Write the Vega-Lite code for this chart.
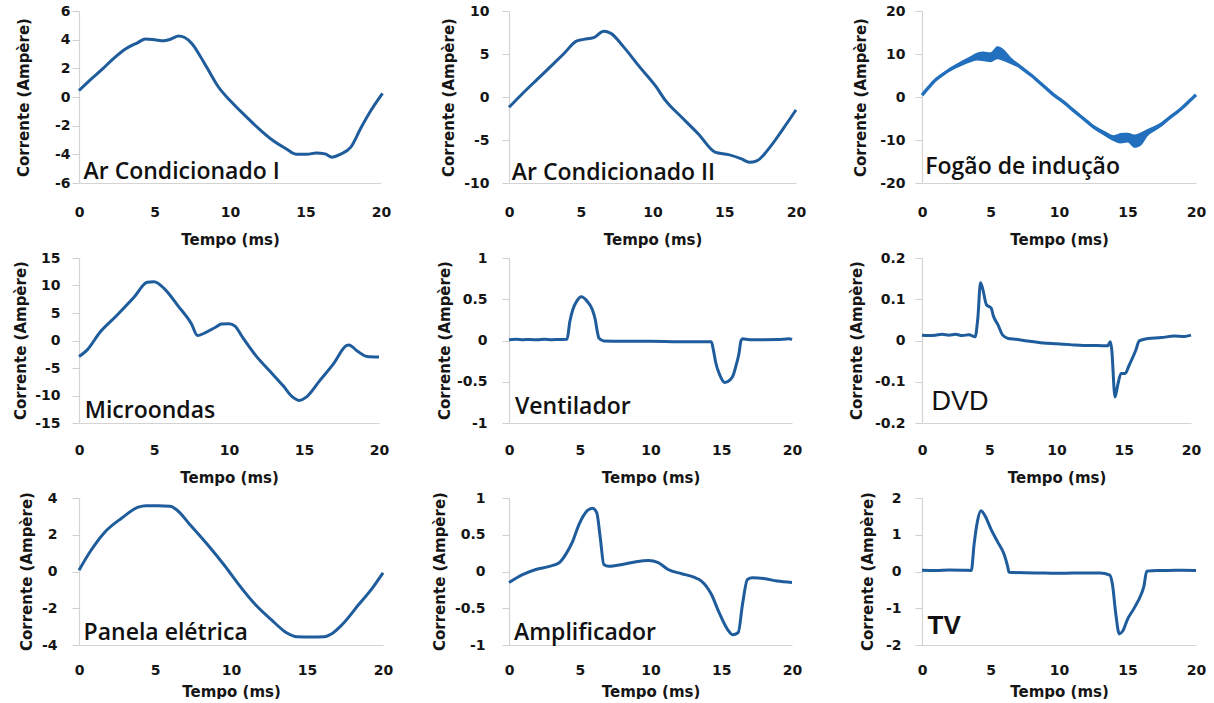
{
  "$schema": "https://vega.github.io/schema/vega-lite/v6.json",
  "background": "white",
  "padding": {"left": 12, "top": 4, "right": 5, "bottom": 0},
  "columns": 3,
  "bounds": "flush",
  "align": "none",
  "spacing": {"row": 75, "column": 126},
  "config": {
    "view": {"stroke": null},
    "axis": {
      "grid": false, "tickCount": 20,
      "labelFont": "DejaVu Sans", "labelFontWeight": "bold", "labelFontSize": 14, "labelColor": "#151515",
      "titleFont": "DejaVu Sans", "titleFontWeight": "bold", "titleFontSize": 15, "titleColor": "#151515",
      "domainColor": "#d4d4d4", "domainWidth": 1.2, "tickColor": "#cfcfcf", "labelOverlap": false, "labelBound": false, "labelFlush": false
    },
    "text": {"font": "Open Sans", "fontSize": 23, "fontWeight": 600, "color": "#111111", "align": "left", "baseline": "alphabetic"},
    "line": {"color": "#1f5c9c", "strokeWidth": 3, "interpolate": "monotone"}
  },
  "datasets": {
    "ac1": [
      {"t":0,"v":0.45},{"t":0.8,"v":1.25},{"t":1.6,"v":2.0},{"t":2.3,"v":2.7},{"t":3.0,"v":3.3},{"t":3.9,"v":3.8},{"t":4.4,"v":4.05},{"t":5.0,"v":4.0},{"t":5.6,"v":3.92},{"t":6.1,"v":4.05},{"t":6.6,"v":4.25},{"t":7.0,"v":4.15},{"t":7.5,"v":3.7},{"t":8.0,"v":2.9},{"t":8.5,"v":2.0},{"t":9.2,"v":0.75},{"t":10.1,"v":-0.35},{"t":11.0,"v":-1.3},{"t":11.9,"v":-2.2},{"t":12.8,"v":-3.0},{"t":13.7,"v":-3.6},{"t":14.4,"v":-4.0},{"t":15.1,"v":-4.0},{"t":15.7,"v":-3.9},{"t":16.3,"v":-3.97},{"t":16.75,"v":-4.2},{"t":17.3,"v":-4.0},{"t":18.0,"v":-3.5},{"t":18.65,"v":-2.2},{"t":19.3,"v":-1.0},{"t":20.1,"v":0.25}
    ],
    "ac2": [
      {"t":0,"v":-1.2},{"t":1.0,"v":0.5},{"t":2.0,"v":2.1},{"t":3.0,"v":3.7},{"t":3.8,"v":5.0},{"t":4.7,"v":6.5},{"t":5.2,"v":6.7},{"t":5.9,"v":6.9},{"t":6.6,"v":7.65},{"t":7.1,"v":7.4},{"t":8.0,"v":5.8},{"t":9.1,"v":3.5},{"t":10.25,"v":1.2},{"t":10.9,"v":-0.4},{"t":12.0,"v":-2.3},{"t":13.2,"v":-4.3},{"t":14.35,"v":-6.4},{"t":15.3,"v":-6.7},{"t":16.2,"v":-7.2},{"t":16.75,"v":-7.6},{"t":17.3,"v":-7.4},{"t":18.2,"v":-5.8},{"t":19.1,"v":-3.7},{"t":20.0,"v":-1.5}
    ],
    "fogao": [
      {"t":0,"v":0.4,"lo":0.4,"hi":0.4},{"t":0.5,"v":2.3,"lo":2.1,"hi":2.5},{"t":1,"v":4.0,"lo":3.7,"hi":4.3},{"t":1.5,"v":5.2,"lo":4.9,"hi":5.5},{"t":2,"v":6.3,"lo":5.9,"hi":6.7},{"t":2.5,"v":7.2,"lo":6.7,"hi":7.7},{"t":3,"v":8.0,"lo":7.4,"hi":8.6},{"t":3.5,"v":8.7,"lo":8.0,"hi":9.4},{"t":4,"v":9.3,"lo":8.5,"hi":10.3},{"t":4.5,"v":9.4,"lo":8.3,"hi":10.6},{"t":5,"v":9.2,"lo":8.1,"hi":10.4},{"t":5.5,"v":10.0,"lo":8.8,"hi":11.8},{"t":6,"v":9.5,"lo":8.3,"hi":11.0},{"t":6.5,"v":8.4,"lo":7.6,"hi":9.2},{"t":7,"v":7.4,"lo":6.9,"hi":7.9},{"t":7.5,"v":6.2,"lo":5.8,"hi":6.6},{"t":8,"v":5.0,"lo":4.7,"hi":5.3},{"t":8.5,"v":3.6,"lo":3.3,"hi":3.9},{"t":9,"v":2.2,"lo":2.0,"hi":2.4},{"t":9.5,"v":0.8,"lo":0.6,"hi":1.0},{"t":10,"v":-0.4,"lo":-0.6,"hi":-0.2},{"t":10.5,"v":-1.6,"lo":-1.8,"hi":-1.4},{"t":11,"v":-3.0,"lo":-3.3,"hi":-2.7},{"t":11.5,"v":-4.3,"lo":-4.6,"hi":-4.0},{"t":12,"v":-5.6,"lo":-6.0,"hi":-5.2},{"t":12.5,"v":-6.9,"lo":-7.3,"hi":-6.5},{"t":13,"v":-7.9,"lo":-8.4,"hi":-7.4},{"t":13.5,"v":-8.8,"lo":-9.4,"hi":-8.2},{"t":14,"v":-9.6,"lo":-10.3,"hi":-8.9},{"t":14.5,"v":-9.6,"lo":-10.8,"hi":-8.4},{"t":15,"v":-9.5,"lo":-10.6,"hi":-8.3},{"t":15.5,"v":-10.2,"lo":-11.8,"hi":-8.7},{"t":16,"v":-9.6,"lo":-11.2,"hi":-8.2},{"t":16.5,"v":-8.2,"lo":-9.0,"hi":-7.4},{"t":17,"v":-7.3,"lo":-7.9,"hi":-6.7},{"t":17.5,"v":-6.3,"lo":-6.8,"hi":-5.8},{"t":18,"v":-5.0,"lo":-5.4,"hi":-4.6},{"t":18.5,"v":-3.8,"lo":-4.1,"hi":-3.5},{"t":19,"v":-2.5,"lo":-2.7,"hi":-2.3},{"t":19.5,"v":-1.0,"lo":-1.2,"hi":-0.8},{"t":20,"v":0.5,"lo":0.5,"hi":0.5}
    ],
    "micro": [
      {"t":0,"v":-2.9},{"t":0.5,"v":-1.85},{"t":1.4,"v":1.5},{"t":2.5,"v":4.5},{"t":3.65,"v":7.8},{"t":4.55,"v":10.6},{"t":5.0,"v":10.7},{"t":5.7,"v":9.4},{"t":6.6,"v":6.3},{"t":7.5,"v":3.0},{"t":7.9,"v":0.9},{"t":8.4,"v":1.4},{"t":9.1,"v":2.4},{"t":9.5,"v":3.0},{"t":10.0,"v":3.05},{"t":10.4,"v":2.6},{"t":10.9,"v":0.6},{"t":11.8,"v":-2.8},{"t":12.7,"v":-5.5},{"t":13.6,"v":-8.2},{"t":14.25,"v":-10.3},{"t":14.7,"v":-10.9},{"t":15.15,"v":-10.3},{"t":16.05,"v":-7.3},{"t":16.95,"v":-4.3},{"t":17.85,"v":-0.9},{"t":18.0,"v":-0.8},{"t":18.5,"v":-1.8},{"t":19.2,"v":-2.9},{"t":20.0,"v":-3.0}
    ],
    "vent": [
      {"t":0,"v":0.01},{"t":0.5,"v":0.015},{"t":1,"v":0.01},{"t":1.5,"v":0.012},{"t":2,"v":0.008},{"t":2.5,"v":0.015},{"t":3,"v":0.01},{"t":3.5,"v":0.012},{"t":4.1,"v":0.015},{"t":4.3,"v":0.23},{"t":4.5,"v":0.37},{"t":4.8,"v":0.48},{"t":5.1,"v":0.53},{"t":5.55,"v":0.47},{"t":5.9,"v":0.37},{"t":6.1,"v":0.25},{"t":6.25,"v":0.1},{"t":6.35,"v":0.03},{"t":6.7,"v":-0.005},{"t":8,"v":-0.01},{"t":10,"v":-0.01},{"t":12,"v":-0.015},{"t":14.3,"v":-0.015},{"t":14.45,"v":-0.12},{"t":14.6,"v":-0.26},{"t":14.9,"v":-0.42},{"t":15.25,"v":-0.51},{"t":15.6,"v":-0.48},{"t":15.85,"v":-0.42},{"t":16.05,"v":-0.3},{"t":16.25,"v":-0.16},{"t":16.4,"v":0.0},{"t":16.5,"v":0.02},{"t":17,"v":0.01},{"t":18,"v":0.01},{"t":19,"v":0.012},{"t":19.8,"v":0.02},{"t":20,"v":0.01}
    ],
    "dvd": [
      {"t":0,"v":0.013},{"t":0.5,"v":0.012},{"t":1,"v":0.013},{"t":1.5,"v":0.015},{"t":2,"v":0.013},{"t":2.5,"v":0.015},{"t":3,"v":0.012},{"t":3.5,"v":0.014},{"t":3.95,"v":0.009},{"t":4.15,"v":0.054},{"t":4.35,"v":0.14},{"t":4.5,"v":0.127},{"t":4.8,"v":0.086},{"t":5.0,"v":0.082},{"t":5.15,"v":0.078},{"t":5.3,"v":0.06},{"t":5.65,"v":0.038},{"t":6.0,"v":0.013},{"t":6.4,"v":0.005},{"t":7,"v":0.003},{"t":8,"v":-0.002},{"t":9,"v":-0.006},{"t":10,"v":-0.008},{"t":11,"v":-0.01},{"t":12,"v":-0.012},{"t":13,"v":-0.012},{"t":13.8,"v":-0.013},{"t":14.0,"v":-0.003},{"t":14.1,"v":-0.02},{"t":14.35,"v":-0.137},{"t":14.55,"v":-0.108},{"t":14.8,"v":-0.08},{"t":15.1,"v":-0.08},{"t":15.4,"v":-0.06},{"t":15.9,"v":-0.023},{"t":16.15,"v":-0.001},{"t":16.8,"v":0.005},{"t":17.8,"v":0.007},{"t":18.75,"v":0.011},{"t":19.5,"v":0.01},{"t":20.0,"v":0.013}
    ],
    "panela": [
      {"t":0,"v":0.07},{"t":0.75,"v":1.1},{"t":1.65,"v":2.1},{"t":2.8,"v":2.9},{"t":3.9,"v":3.5},{"t":4.4,"v":3.58},{"t":5.2,"v":3.58},{"t":6.0,"v":3.55},{"t":6.4,"v":3.37},{"t":7.3,"v":2.55},{"t":8.45,"v":1.47},{"t":9.6,"v":0.3},{"t":10.5,"v":-0.7},{"t":11.6,"v":-1.8},{"t":12.75,"v":-2.7},{"t":13.65,"v":-3.33},{"t":14.35,"v":-3.55},{"t":15.2,"v":-3.57},{"t":16.15,"v":-3.55},{"t":16.6,"v":-3.4},{"t":17.3,"v":-2.9},{"t":18.4,"v":-1.8},{"t":19.3,"v":-0.9},{"t":20.0,"v":-0.07}
    ],
    "amp": [
      {"t":0,"v":-0.15},{"t":1.0,"v":-0.04},{"t":1.9,"v":0.027},{"t":2.85,"v":0.07},{"t":3.55,"v":0.12},{"t":4.0,"v":0.23},{"t":4.5,"v":0.41},{"t":4.95,"v":0.64},{"t":5.55,"v":0.83},{"t":5.9,"v":0.86},{"t":6.2,"v":0.8},{"t":6.45,"v":0.46},{"t":6.7,"v":0.095},{"t":7.05,"v":0.07},{"t":8.0,"v":0.095},{"t":8.9,"v":0.13},{"t":9.85,"v":0.15},{"t":10.55,"v":0.12},{"t":11.25,"v":0.027},{"t":12.2,"v":-0.03},{"t":13.1,"v":-0.08},{"t":13.6,"v":-0.13},{"t":14.3,"v":-0.31},{"t":14.85,"v":-0.56},{"t":15.45,"v":-0.79},{"t":15.8,"v":-0.86},{"t":16.2,"v":-0.83},{"t":16.5,"v":-0.45},{"t":16.85,"v":-0.11},{"t":17.2,"v":-0.086},{"t":18.0,"v":-0.095},{"t":18.95,"v":-0.13},{"t":20.0,"v":-0.15}
    ],
    "tv": [
      {"t":0,"v":0.035},{"t":1,"v":0.03},{"t":2,"v":0.04},{"t":3,"v":0.035},{"t":3.6,"v":0.03},{"t":3.8,"v":0.73},{"t":4.05,"v":1.37},{"t":4.3,"v":1.65},{"t":4.55,"v":1.55},{"t":5.05,"v":1.14},{"t":5.5,"v":0.82},{"t":6.0,"v":0.46},{"t":6.25,"v":0.14},{"t":6.35,"v":-0.02},{"t":7.5,"v":-0.035},{"t":9,"v":-0.04},{"t":10,"v":-0.05},{"t":11,"v":-0.04},{"t":12,"v":-0.04},{"t":13,"v":-0.04},{"t":13.7,"v":-0.1},{"t":13.9,"v":-0.35},{"t":14.15,"v":-1.17},{"t":14.4,"v":-1.7},{"t":14.65,"v":-1.62},{"t":15.0,"v":-1.3},{"t":15.5,"v":-0.99},{"t":16.0,"v":-0.62},{"t":16.2,"v":-0.4},{"t":16.4,"v":0.01},{"t":17.2,"v":0.03},{"t":18,"v":0.03},{"t":19,"v":0.035},{"t":20,"v":0.03}
    ]
  },
  "concat": [
    {
      "width": 302, "height": 172,
      "layer": [
        {"data": {"name": "ac1"}, "mark": {"type": "line"},
         "encoding": {
           "x": {"field": "t", "type": "quantitative", "scale": {"domain": [0, 20], "nice": false}, "axis": {"title": "Tempo (ms)", "values": [0,5,10,15,20], "tickCount": 20, "ticks": false, "labelOverlap": false, "labelPadding": 22, "titleY": 56, "titleBaseline": "middle"}},
           "y": {"field": "v", "type": "quantitative", "scale": {"domain": [-6, 6], "nice": false, "zero": false}, "axis": {"title": "Corrente (Ampère)", "values": [-6,-4,-2,0,2,4,6], "tickCount": 20, "labelOverlap": false, "tickSize": 7, "labelPadding": 2, "titleX": -56, "titleY": 86, "titleBaseline": "middle", "labelExpr": "toString(datum.value)"}}
         }},
        {"data": {"values": [{"t": 0.3, "v": -5.7, "label": "Ar Condicionado I"}]}, "mark": {"type": "text"},
         "encoding": {"x": {"field": "t", "type": "quantitative"}, "y": {"field": "v", "type": "quantitative"}, "text": {"field": "label"}}}
      ]
    },
    {
      "width": 287, "height": 172,
      "layer": [
        {"data": {"name": "ac2"}, "mark": {"type": "line"},
         "encoding": {
           "x": {"field": "t", "type": "quantitative", "scale": {"domain": [0, 20], "nice": false}, "axis": {"title": "Tempo (ms)", "values": [0,5,10,15,20], "tickCount": 20, "ticks": false, "labelOverlap": false, "labelPadding": 22, "titleY": 56, "titleBaseline": "middle"}},
           "y": {"field": "v", "type": "quantitative", "scale": {"domain": [-10, 10], "nice": false, "zero": false}, "axis": {"title": "Corrente (Ampère)", "values": [-10,-5,0,5,10], "tickCount": 20, "labelOverlap": false, "tickSize": 7, "labelPadding": 13, "titleX": -61, "titleY": 86, "titleBaseline": "middle", "labelExpr": "toString(datum.value)"}}
         }},
        {"data": {"values": [{"t": 0.2, "v": -9.6, "label": "Ar Condicionado II"}]}, "mark": {"type": "text"},
         "encoding": {"x": {"field": "t", "type": "quantitative"}, "y": {"field": "v", "type": "quantitative"}, "text": {"field": "label"}}}
      ]
    },
    {
      "width": 274, "height": 172,
      "layer": [
        {"data": {"name": "fogao"}, "mark": {"type": "area", "color": "#2270bd", "opacity": 1, "interpolate": "monotone"},
         "encoding": {
           "x": {"field": "t", "type": "quantitative", "scale": {"domain": [0, 20], "nice": false}, "axis": {"title": "Tempo (ms)", "values": [0,5,10,15,20], "tickCount": 20, "ticks": false, "labelOverlap": false, "labelPadding": 22, "titleY": 56, "titleBaseline": "middle"}},
           "y": {"field": "lo", "type": "quantitative", "scale": {"domain": [-20, 20], "nice": false, "zero": false}, "axis": {"title": "Corrente (Ampère)", "values": [-20,-10,0,10,20], "tickCount": 20, "labelOverlap": false, "tickSize": 7, "labelPadding": 10, "titleX": -62, "titleY": 86, "titleBaseline": "middle", "labelExpr": "toString(datum.value)"}},
           "y2": {"field": "hi"}
         }},
        {"data": {"name": "fogao"}, "mark": {"type": "line", "color": "#2270bd", "strokeWidth": 3.4},
         "encoding": {"x": {"field": "t", "type": "quantitative"}, "y": {"field": "v", "type": "quantitative"}}},
        {"data": {"values": [{"t": 0.24, "v": -17.9, "label": "Fogão de indução"}]}, "mark": {"type": "text"},
         "encoding": {"x": {"field": "t", "type": "quantitative"}, "y": {"field": "v", "type": "quantitative"}, "text": {"field": "label"}}}
      ]
    },
    {
      "width": 300, "height": 165,
      "layer": [
        {"data": {"name": "micro"}, "mark": {"type": "line"},
         "encoding": {
           "x": {"field": "t", "type": "quantitative", "scale": {"domain": [0, 20], "nice": false}, "axis": {"title": "Tempo (ms)", "values": [0,5,10,15,20], "tickCount": 20, "ticks": false, "labelOverlap": false, "labelPadding": 20, "titleY": 54, "titleBaseline": "middle"}},
           "y": {"field": "v", "type": "quantitative", "scale": {"domain": [-15, 15], "nice": false, "zero": false}, "axis": {"title": "Corrente (Ampère)", "values": [-15,-10,-5,0,5,10,15], "tickCount": 20, "labelOverlap": false, "tickSize": 7, "labelPadding": 12, "titleX": -59, "titleY": 82, "titleBaseline": "middle", "labelExpr": "toString(datum.value)"}}
         }},
        {"data": {"values": [{"t": 0.38, "v": -14.1, "label": "Microondas"}]}, "mark": {"type": "text"},
         "encoding": {"x": {"field": "t", "type": "quantitative"}, "y": {"field": "v", "type": "quantitative"}, "text": {"field": "label"}}}
      ]
    },
    {
      "width": 283, "height": 165,
      "layer": [
        {"data": {"name": "vent"}, "mark": {"type": "line"},
         "encoding": {
           "x": {"field": "t", "type": "quantitative", "scale": {"domain": [0, 20], "nice": false}, "axis": {"title": "Tempo (ms)", "values": [0,5,10,15,20], "tickCount": 20, "ticks": false, "labelOverlap": false, "labelPadding": 20, "titleY": 54, "titleBaseline": "middle"}},
           "y": {"field": "v", "type": "quantitative", "scale": {"domain": [-1, 1], "nice": false, "zero": false}, "axis": {"title": "Corrente (Ampère)", "values": [-1,-0.5,0,0.5,1], "tickCount": 20, "labelOverlap": false, "tickSize": 7, "labelPadding": 15, "titleX": -65, "titleY": 82, "titleBaseline": "middle", "labelExpr": "toString(datum.value)"}}
         }},
        {"data": {"values": [{"t": 0.42, "v": -0.895, "label": "Ventilador"}]}, "mark": {"type": "text"},
         "encoding": {"x": {"field": "t", "type": "quantitative"}, "y": {"field": "v", "type": "quantitative"}, "text": {"field": "label"}}}
      ]
    },
    {
      "width": 269, "height": 165,
      "layer": [
        {"data": {"name": "dvd"}, "mark": {"type": "line"},
         "encoding": {
           "x": {"field": "t", "type": "quantitative", "scale": {"domain": [0, 20], "nice": false}, "axis": {"title": "Tempo (ms)", "values": [0,5,10,15,20], "tickCount": 20, "ticks": false, "labelOverlap": false, "labelPadding": 20, "titleY": 54, "titleBaseline": "middle"}},
           "y": {"field": "v", "type": "quantitative", "scale": {"domain": [-0.2, 0.2], "nice": false, "zero": false}, "axis": {"title": "Corrente (Ampère)", "values": [-0.2,-0.1,0,0.1,0.2], "tickCount": 20, "labelOverlap": false, "tickSize": 7, "labelPadding": 10, "titleX": -66, "titleY": 82, "titleBaseline": "middle", "labelExpr": "toString(datum.value)"}}
         }},
        {"data": {"values": [{"t": 0.7, "v": -0.169, "label": "DVD"}]}, "mark": {"type": "text", "font": "Liberation Sans", "fontWeight": "normal", "fontSize": 27},
         "encoding": {"x": {"field": "t", "type": "quantitative"}, "y": {"field": "v", "type": "quantitative"}, "text": {"field": "label"}}}
      ]
    },
    {
      "width": 304, "height": 147,
      "layer": [
        {"data": {"name": "panela"}, "mark": {"type": "line"},
         "encoding": {
           "x": {"field": "t", "type": "quantitative", "scale": {"domain": [0, 20], "nice": false}, "axis": {"title": "Tempo (ms)", "values": [0,5,10,15,20], "tickCount": 20, "ticks": false, "labelOverlap": false, "labelPadding": 18, "titleY": 46, "titleBaseline": "middle"}},
           "y": {"field": "v", "type": "quantitative", "scale": {"domain": [-4, 4], "nice": false, "zero": false}, "axis": {"title": "Corrente (Ampère)", "values": [-4,-2,0,2,4], "tickCount": 20, "labelOverlap": false, "tickSize": 7, "labelPadding": 15, "titleX": -53, "titleY": 73, "titleBaseline": "middle", "labelExpr": "toString(datum.value)"}}
         }},
        {"data": {"values": [{"t": 0.3, "v": -3.75, "label": "Panela elétrica"}]}, "mark": {"type": "text"},
         "encoding": {"x": {"field": "t", "type": "quantitative"}, "y": {"field": "v", "type": "quantitative"}, "text": {"field": "label"}}}
      ]
    },
    {
      "width": 283, "height": 147,
      "layer": [
        {"data": {"name": "amp"}, "mark": {"type": "line"},
         "encoding": {
           "x": {"field": "t", "type": "quantitative", "scale": {"domain": [0, 20], "nice": false}, "axis": {"title": "Tempo (ms)", "values": [0,5,10,15,20], "tickCount": 20, "ticks": false, "labelOverlap": false, "labelPadding": 18, "titleY": 46, "titleBaseline": "middle"}},
           "y": {"field": "v", "type": "quantitative", "scale": {"domain": [-1, 1], "nice": false, "zero": false}, "axis": {"title": "Corrente (Ampère)", "values": [-1,-0.5,0,0.5,1], "tickCount": 20, "labelOverlap": false, "tickSize": 7, "labelPadding": 17, "titleX": -70, "titleY": 73, "titleBaseline": "middle", "labelExpr": "toString(datum.value)"}}
         }},
        {"data": {"values": [{"t": 0.35, "v": -0.93, "label": "Amplificador"}]}, "mark": {"type": "text"},
         "encoding": {"x": {"field": "t", "type": "quantitative"}, "y": {"field": "v", "type": "quantitative"}, "text": {"field": "label"}}}
      ]
    },
    {
      "width": 274, "height": 147,
      "layer": [
        {"data": {"name": "tv"}, "mark": {"type": "line"},
         "encoding": {
           "x": {"field": "t", "type": "quantitative", "scale": {"domain": [0, 20], "nice": false}, "axis": {"title": "Tempo (ms)", "values": [0,5,10,15,20], "tickCount": 20, "ticks": false, "labelOverlap": false, "labelPadding": 18, "titleY": 46, "titleBaseline": "middle"}},
           "y": {"field": "v", "type": "quantitative", "scale": {"domain": [-2, 2], "nice": false, "zero": false}, "axis": {"title": "Corrente (Ampère)", "values": [-2,-1,0,1,2], "tickCount": 20, "labelOverlap": false, "tickSize": 7, "labelPadding": 14, "titleX": -55, "titleY": 73, "titleBaseline": "middle", "labelExpr": "toString(datum.value)"}}
         }},
        {"data": {"values": [{"t": 0.41, "v": -1.71, "label": "TV"}]}, "mark": {"type": "text", "font": "Liberation Sans", "fontWeight": "bold", "fontSize": 26},
         "encoding": {"x": {"field": "t", "type": "quantitative"}, "y": {"field": "v", "type": "quantitative"}, "text": {"field": "label"}}}
      ]
    }
  ]
}
